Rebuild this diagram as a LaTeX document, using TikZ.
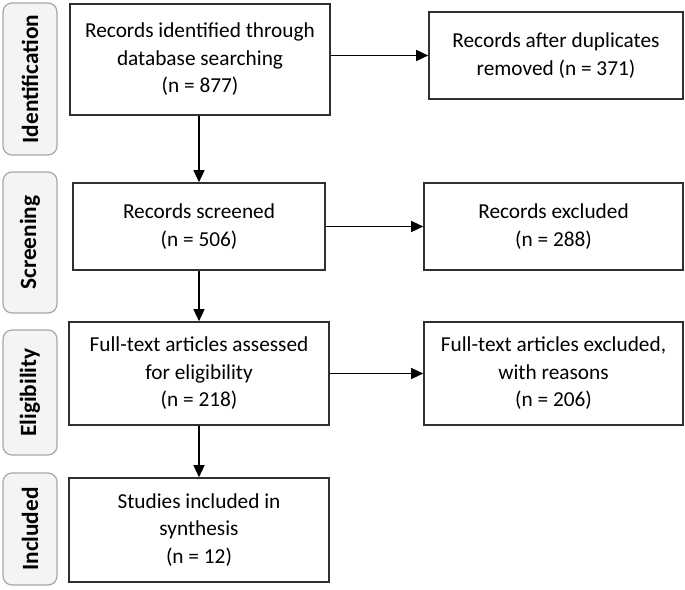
\documentclass[tikz,border=0pt]{standalone}
\usepackage{fontspec}
\setmainfont{Carlito}
\usepackage{xcolor}
\usetikzlibrary{arrows.meta}
\definecolor{stagefill}{HTML}{F4F4F4}
\definecolor{stageline}{HTML}{A8A8A8}
\definecolor{boxline}{HTML}{303030}
\tikzset{
  recbox/.style={draw=boxline, line width=1.6pt, align=center, inner sep=2pt,
    font=\fontsize{21.3}{27.5}\selectfont},
  stagebox/.style={draw=stageline, fill=stagefill, line width=1.2pt, rounded corners=9pt,
    rotate=90, minimum height=54pt, inner sep=0pt, font=\fontsize{23.3}{28}\selectfont\bfseries},
  flow/.style={line width=1.4pt, black, -{Triangle[length=12pt,width=11pt]}},
}

\begin{document}
\begin{tikzpicture}[x=1pt,y=-1pt]
\useasboundingbox (0,0) rectangle (685,589);
% stages
\node[stagebox, minimum width=152pt] (ident) at (30,79) {Identification};
\node[stagebox, minimum width=141pt] (screen) at (30,242.5) {Screening};
\node[stagebox, minimum width=125pt] (elig) at (30,392.5) {Eligibility};
\node[stagebox, minimum width=112pt] (incl) at (30,529) {Included};
% main column
\node[recbox, minimum width=260pt, minimum height=111pt] (found) at (200,59.5)
  {Records identified through\\database searching\\(n = 877)};
\node[recbox, minimum width=252pt, minimum height=87pt] (screened) at (199,226.5)
  {Records screened\\(n = 506)};
\node[recbox, minimum width=260pt, minimum height=103pt] (assessed) at (199,373.5)
  {Full-text articles assessed\\for eligibility\\(n = 218)};
\node[recbox, minimum width=260pt, minimum height=104pt] (included) at (199,530)
  {Studies included in\\synthesis\\(n = 12)};
% side column
\node[recbox, minimum width=254pt, minimum height=87pt] (dupes) at (556,55.5)
  {Records after duplicates\\removed (n = 371)};
\node[recbox, minimum width=259pt, minimum height=87pt] (excluded) at (553.5,226.5)
  {Records excluded\\(n = 288)};
\node[recbox, minimum width=259pt, minimum height=103pt] (ftexcl) at (553.5,373.5)
  {Full-text articles excluded,\\with reasons\\(n = 206)};
% arrows
\draw[flow] (found.south -| screened) -- (screened.north);
\draw[flow] (screened) -- (assessed);
\draw[flow] (assessed) -- (included);
\draw[flow] (found.east |- dupes) -- (dupes.west);
\draw[flow] (screened) -- (excluded);
\draw[flow] (assessed) -- (ftexcl);
\end{tikzpicture}
\end{document}
